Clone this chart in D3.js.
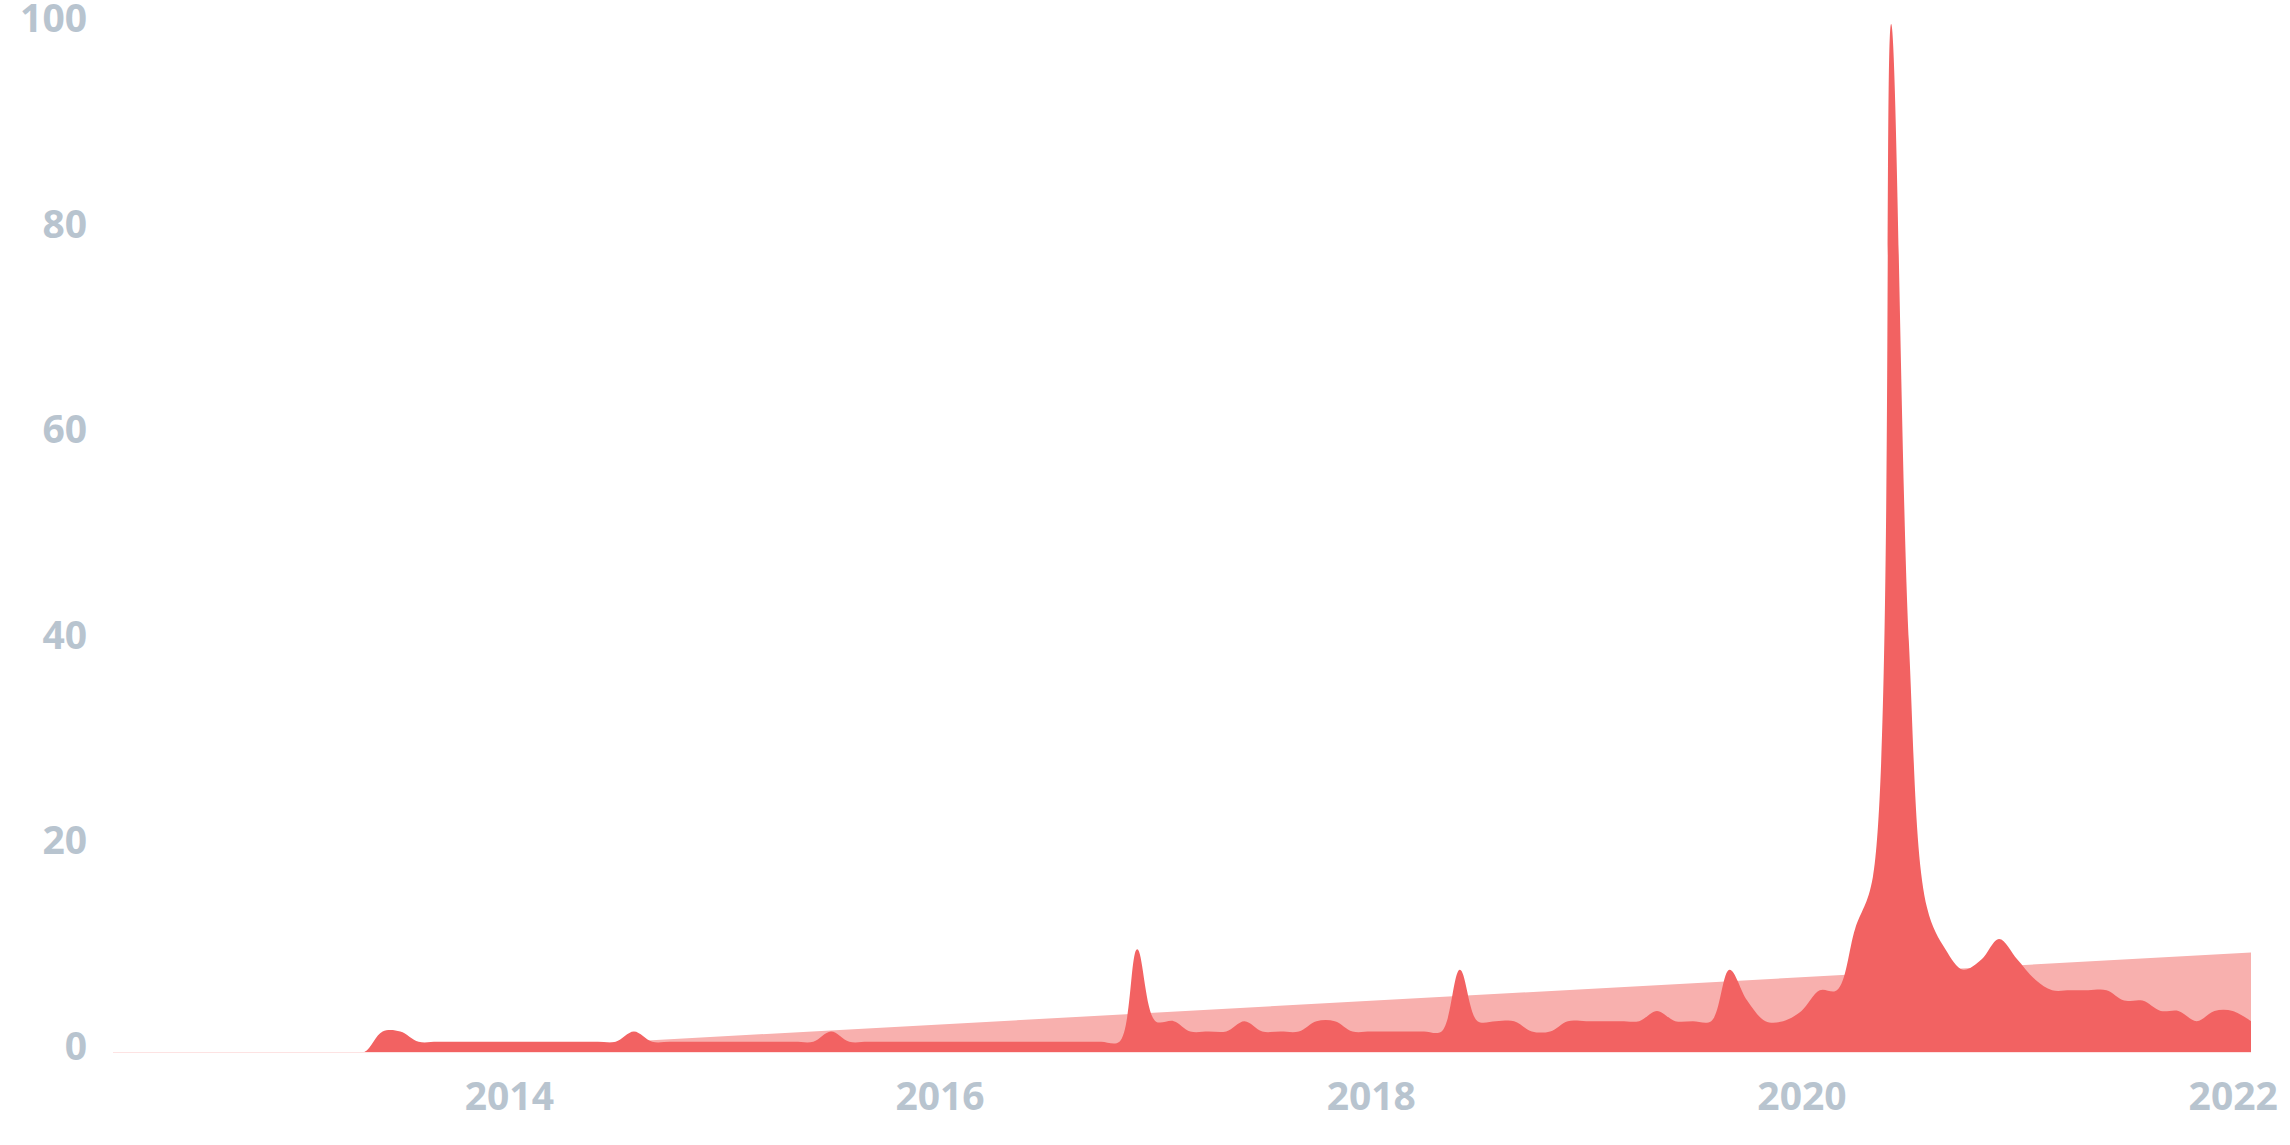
<!DOCTYPE html>
<html><head><meta charset="utf-8">
<script src="https://cdn.jsdelivr.net/npm/d3@7"></script>
<style>html,body{margin:0;padding:0;background:#fff;} svg{display:block;}</style>
</head><body>
<svg id="chart" width="2290" height="1145"></svg>
<script>
// ---- data (monthly search interest, 0–100) ----
const startMonth = "2012-03";
const interest = [
  // 2012 Mar–Dec
  0,0,0,0,0,0,0,0,0,0,
  // 2013
  0,0,0,0,0,2,2,1,1,1,1,1,
  // 2014
  1,1,1,1,1,1,1,2,1,1,1,1,
  // 2015
  1,1,1,1,1,1,2,1,1,1,1,1,
  // 2016
  1,1,1,1,1,1,1,1,1,1,1,10,
  // 2017
  3,3,2,2,2,3,2,2,2,3,3,2,
  // 2018
  2,2,2,2,2,8,3,3,3,2,2,3,
  // 2019
  3,3,3,3,4,3,3,3,8,5,3,3,
  // 2020
  4,6,6,12,17,100,40,14,10,8,9,11,
  // 2021
  9,7,6,6,6,6,5,5,4,4,3,4,
  // 2022 Jan–Feb
  4,3
];
const trendValues = [-1.73, 9.67];   // linear trend at first and last month
const yTicks = [0, 20, 40, 60, 80, 100];
const xTickYears = [2014, 2016, 2018, 2020, 2022];

(function () {
  const plotLeft = 113, plotRight = 2251, plotTop = 24, plotBottom = 1052;
  const red = "#f26262", pink = "#f8b0ae", labelColor = "#b8c4cf";

  const svg = d3.select("#chart");
  const parse = d3.timeParse("%Y-%m");
  const dates = interest.map((_, i) => d3.timeMonth.offset(parse(startMonth), i));
  const series = interest.map((v, i) => ({ date: dates[i], v }));
  const trend = [
    { date: dates[0], v: trendValues[0] },
    { date: dates[dates.length - 1], v: trendValues[1] }
  ];

  const x = d3.scaleTime().domain([dates[0], dates[dates.length - 1]]).range([plotLeft, plotRight]);
  const y = d3.scaleLinear().domain([0, 100]).range([plotBottom, plotTop]);

  svg.append("defs").append("clipPath").attr("id", "plot")
    .append("rect").attr("x", plotLeft).attr("y", 0)
    .attr("width", plotRight - plotLeft).attr("height", plotBottom);

  const g = svg.append("g").attr("clip-path", "url(#plot)");

  svg.append("line")
    .attr("x1", plotLeft).attr("x2", plotRight).attr("y1", plotBottom + 0.5).attr("y2", plotBottom + 0.5)
    .attr("stroke", "#fde3e3").attr("stroke-width", 1);

  g.append("path").datum(trend)
    .attr("fill", pink)
    .attr("d", d3.area().x(d => x(d.date)).y0(y(0)).y1(d => y(d.v)));

  g.append("path").datum(series)
    .attr("fill", red)
    .attr("d", d3.area().curve(d3.curveCatmullRom).x(d => x(d.date)).y0(y(0)).y1(d => y(d.v)));

  const fontCss = "font-family:'Open Sans',Roboto,sans-serif;font-weight:700;font-size:39px;";

  const ya = svg.append("g").attr("transform", `translate(${plotLeft},0)`)
    .call(d3.axisLeft(y).tickValues(yTicks).tickSize(0).tickPadding(26));
  ya.select(".domain").remove();
  ya.selectAll("text").attr("style", fontCss).attr("fill", labelColor).attr("y", -5);

  const xa = svg.append("g").attr("transform", `translate(0,${plotBottom})`)
    .call(d3.axisBottom(x).tickValues(xTickYears.map(yr => new Date(yr, 0, 1)))
      .tickFormat(d3.timeFormat("%Y")).tickSize(0));
  xa.select(".domain").remove();
  xa.selectAll("text").attr("style", fontCss).attr("fill", labelColor).attr("y", 58).attr("dy", 0);
})();
</script>
</body></html>
